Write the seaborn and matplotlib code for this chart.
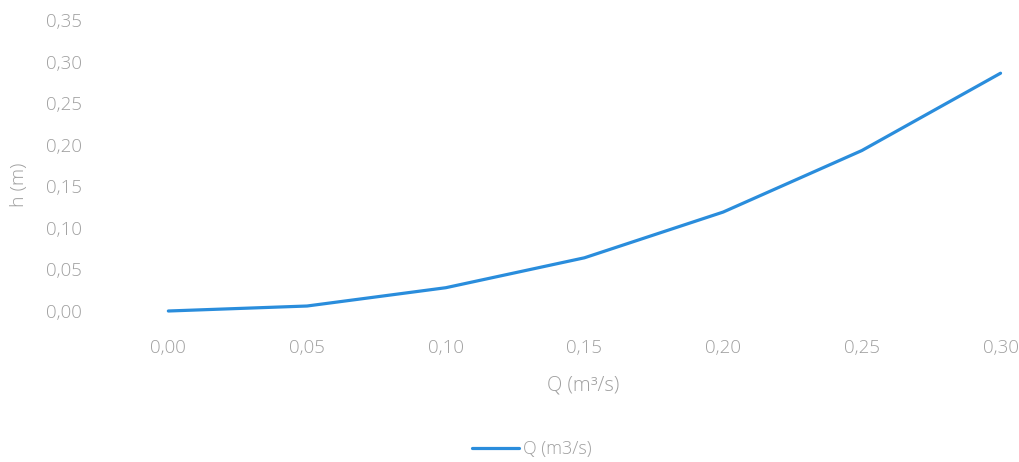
import matplotlib
matplotlib.use("Agg")
import matplotlib.pyplot as plt
import seaborn as sns
import pandas as pd

# Flow categories (m3/s) and corresponding water depth h (m)
q_labels = ["0,00", "0,05", "0,10", "0,15", "0,20", "0,25", "0,30"]
h_values = [0.000, 0.006, 0.028, 0.064, 0.119, 0.193, 0.286]
y_ticks = [0.00, 0.05, 0.10, 0.15, 0.20, 0.25, 0.30, 0.35]

sns.set_theme(style="white")
plt.rcParams["font.family"] = ["Open Sans", "DejaVu Sans"]

df = pd.DataFrame({"pos": range(len(q_labels)), "h": h_values})

fig = plt.figure(figsize=(10.2, 4.62), dpi=100)
ax = fig.add_axes([99 / 1020, 151 / 462, 921 / 1020, 291 / 462])

line_color = "#2a8ddc"
sns.lineplot(data=df, x="pos", y="h", ax=ax, color=line_color, linewidth=2.3,
             label="Q (m3/s)", clip_on=False)

ax.set_xlim(-0.5, -0.5 + 921 / 138.7)
ax.set_ylim(0, 0.35)
ax.set_xticks(range(len(q_labels)))
ax.set_xticklabels(q_labels)
ax.set_yticks(y_ticks)
ax.set_yticklabels([f"{v:.2f}".replace(".", ",") for v in y_ticks])

txt_color = "#a0a0a0"
ax.tick_params(axis="both", length=0, labelsize=13.5, labelcolor=txt_color)
ax.tick_params(axis="x", pad=20)
ax.tick_params(axis="y", pad=12)
for lab in ax.get_xticklabels() + ax.get_yticklabels():
    lab.set_fontweight("light")

for s in ax.spines.values():
    s.set_visible(False)

ax.set_xlabel("")
ax.set_ylabel("")
fig.text(583 / 1020, 1 - 386 / 462, "Q (m³/s)", ha="center", va="center",
         fontsize=14.5, color=txt_color, fontweight="light")
fig.text(19 / 1020, 1 - 185 / 462, "h (m)", ha="center", va="center",
         rotation=90, fontsize=14, color=txt_color, fontweight="light")

leg = ax.legend(loc="center", bbox_to_anchor=(532 / 1020, 1 - 449 / 462),
                bbox_transform=fig.transFigure, frameon=False, fontsize=13,
                handlelength=2.6, handletextpad=0.2, labelcolor=txt_color)
for t in leg.get_texts():
    t.set_fontweight("light")

fig.savefig("out.png", dpi=100, facecolor="white")
